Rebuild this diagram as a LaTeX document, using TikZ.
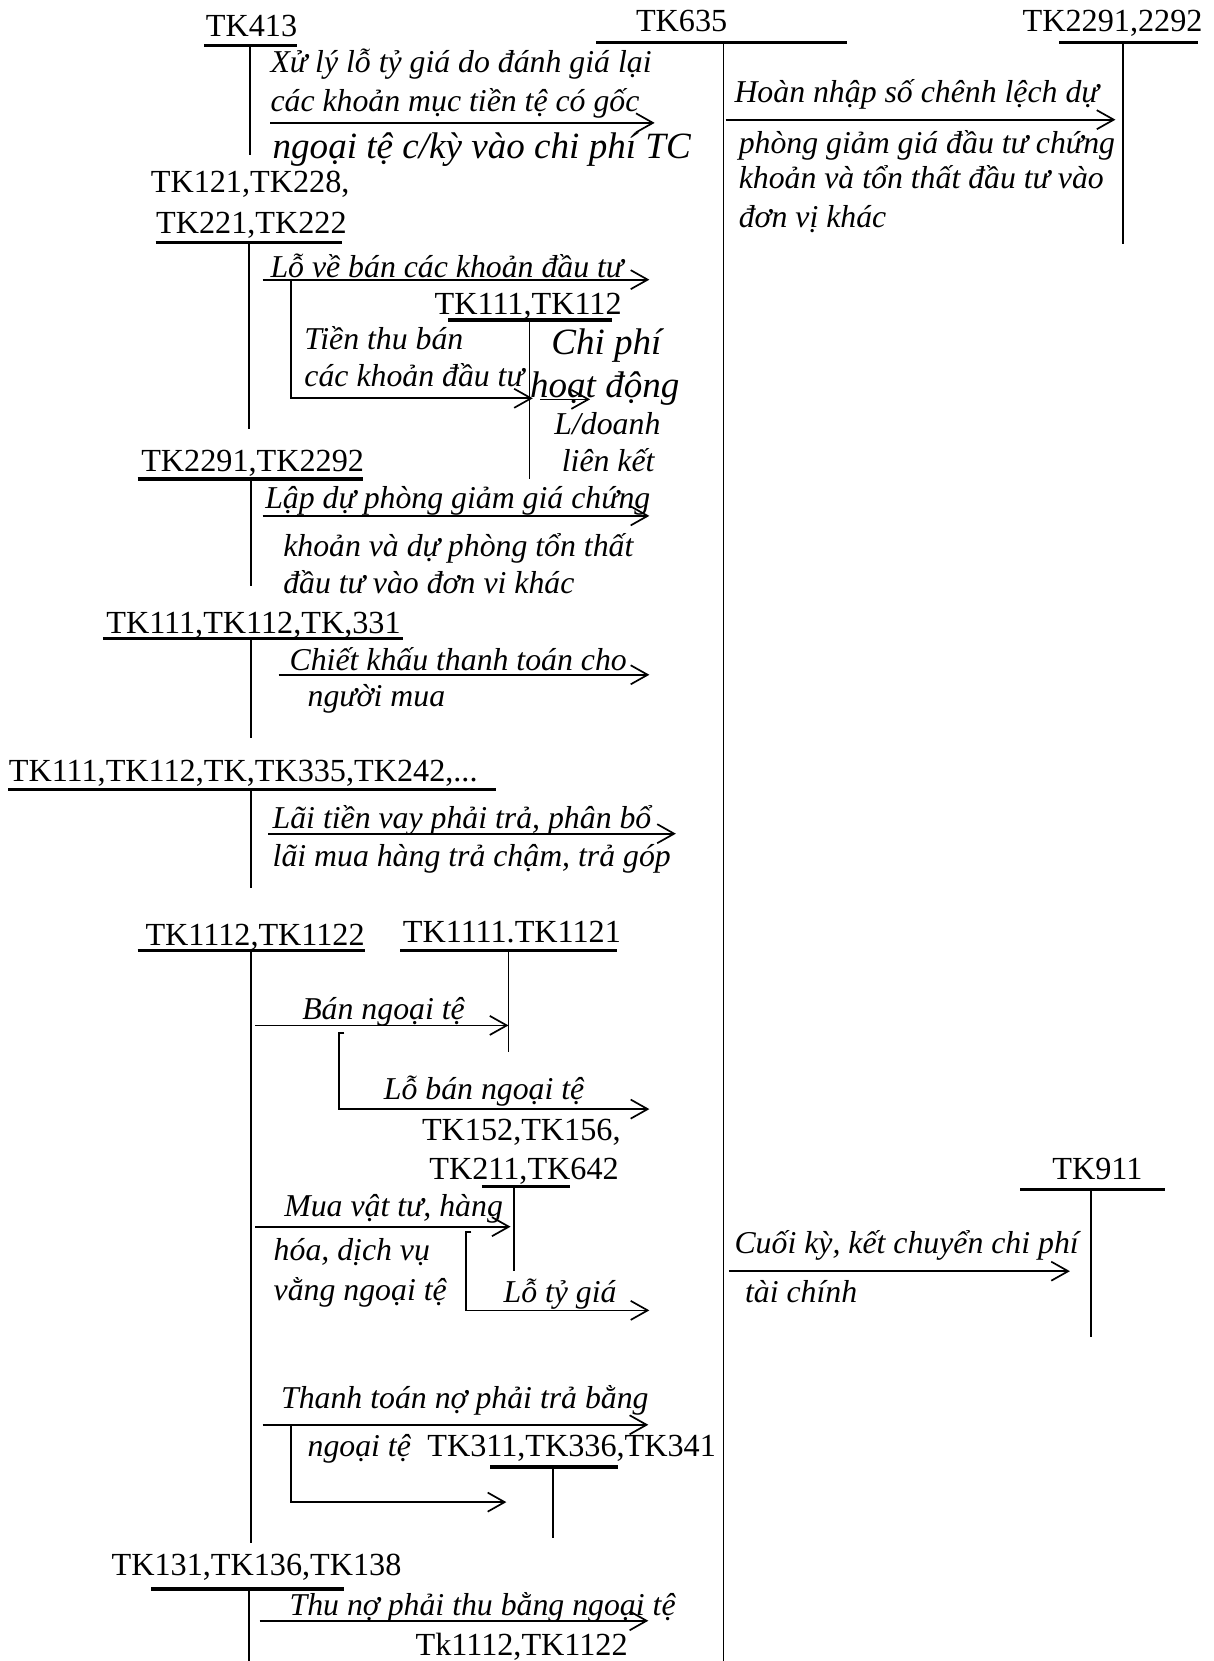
\documentclass[tikz,border=0pt]{standalone}
\usepackage{fontspec}
\setmainfont{Liberation Serif}
\usetikzlibrary{arrows.meta}
\begin{document}
\begin{tikzpicture}[x=0.5pt,y=-0.5pt,
  acct/.style={anchor=base west,inner sep=0pt,font=\fontsize{15.2}{18}\selectfont},
  lbl/.style={anchor=base west,inner sep=0pt,font=\fontsize{15}{18}\selectfont\itshape},
  big/.style={anchor=base west,inner sep=0pt,font=\fontsize{17.5}{20}\selectfont\itshape},
  bar/.style={line width=1.6pt},
  tline/.style={line width=0.7pt},
  flow/.style={line width=0.8pt,-{Straight Barb[length=8pt,width=9pt,line width=0.8pt]}}]
\useasboundingbox (0,0) rectangle (1146,1568);

% ---- T-accounts: title, bar, vertical line ----
\node[acct] (t413) at (194,34) {TK413};
\draw[bar] (193,43) -- (280,43);
\draw[tline] (236,43) -- (236,146);

\node[acct] (t635) at (600,30) {TK635};
\draw[bar] (563,40) -- (800,40);
\draw[tline] (683,40) -- (683,1568);

\node[acct] (t229r) at (965,30) {TK2291,2292};
\draw[bar] (1000,40) -- (1131,40);
\draw[tline] (1060,40) -- (1060,230);

\node[acct] (t121a) at (142,182) {TK121,TK228,};
\node[acct] (t121b) at (147,220) {TK221,TK222};
\draw[bar] (147,229) -- (323,229);
\draw[tline] (235,229) -- (235,405);

\node[acct] (t111a) at (410,297) {TK111,TK112};
\draw[bar] (423,302) -- (578,302);
\draw[tline] (500,302) -- (500,452);

\node[acct] (t229l) at (133,445) {TK2291,TK2292};
\draw[bar] (130,452) -- (343,452);
\draw[tline] (237,452) -- (237,553);

\node[acct] (t331) at (100,598) {TK111,TK112,TK,331};
\draw[bar] (97,603) -- (380,603);
\draw[tline] (237,603) -- (237,697);

\node[acct] (t335) at (8,738) {TK111,TK112,TK,TK335,TK242,...};
\draw[bar] (8,745) -- (468,745);
\draw[tline] (237,745) -- (237,838);

\node[acct] (t1112) at (137,893) {TK1112,TK1122};
\draw[bar] (130,897) -- (345,897);
\draw[tline] (237,897) -- (237,1457);

\node[acct] (t1111) at (380,890) {TK1111.TK1121};
\draw[bar] (378,897) -- (582,897);
\draw[tline] (480,897) -- (480,993);

\node[acct] (t152a) at (398,1077) {TK152,TK156,};
\node[acct] (t152b) at (405,1113) {TK211,TK642};
\draw[bar] (455,1120) -- (538,1120);
\draw[tline] (485,1120) -- (485,1200);

\node[acct] (t911) at (993,1113) {TK911};
\draw[bar] (963,1123) -- (1100,1123);
\draw[tline] (1030,1123) -- (1030,1262);

\node[acct] (t311) at (403,1375) {TK311,TK336,TK341};
\draw[bar] (463,1385) -- (583,1385);
\draw[tline] (522,1385) -- (522,1452);

\node[acct] (t131) at (105,1487) {TK131,TK136,TK138};
\draw[bar] (143,1500) -- (325,1500);
\draw[tline] (235,1500) -- (235,1568);

\node[acct] (tk1112) at (392,1563) {Tk1112,TK1122};

% ---- arrow end points ----
\coordinate (a1s) at (255,116);  \coordinate (a1e) at (618,116);
\coordinate (a2s) at (685,113);  \coordinate (a2e) at (1053,113);
\coordinate (a3s) at (248,264);  \coordinate (a3e) at (613,264);
\coordinate (a4s) at (275,264);  \coordinate (a4k) at (275,376);  \coordinate (a4e) at (503,376);
\coordinate (a5s) at (510,377);  \coordinate (a5e) at (557,377);
\coordinate (a6s) at (248,487);  \coordinate (a6e) at (613,487);
\coordinate (a7s) at (263,637);  \coordinate (a7e) at (613,637);
\coordinate (a8s) at (253,787);  \coordinate (a8e) at (638,787);
\coordinate (a9s) at (241,968);  \coordinate (a9e) at (480,968);
\coordinate (b1h) at (325,975);  \coordinate (b1t) at (320,975);  \coordinate (b1k) at (320,1047); \coordinate (b1e) at (613,1047);
\coordinate (a10s) at (241,1158); \coordinate (a10e) at (482,1158);
\coordinate (b2h) at (445,1163); \coordinate (b2t) at (440,1163); \coordinate (b2k) at (440,1237); \coordinate (b2e) at (613,1237);
\coordinate (a11s) at (688,1200); \coordinate (a11e) at (1010,1200);
\coordinate (a12s) at (248,1345); \coordinate (a12e) at (612,1345);
\coordinate (b3t) at (275,1345); \coordinate (b3k) at (275,1418); \coordinate (b3e) at (478,1418);
\coordinate (a13s) at (245,1530); \coordinate (a13e) at (612,1530);

% ---- entries ----
\draw[flow] (a1s) -- (a1e);
\node[lbl] (l1a) at (255,68) {Xử lý lỗ tỷ giá do đánh giá lại};
\node[lbl] (l1b) at (255,105) {các khoản mục tiền tệ có gốc};
\node[big] (l1c) at (257,150) {ngoại tệ c/kỳ vào chi phí TC};

\draw[flow] (a2s) -- (a2e);
\node[lbl] (l2a) at (693,97) {Hoàn nhập số chênh lệch dự};
\node[lbl] (l2b) at (697,145) {phòng giảm giá đầu tư chứng};
\node[lbl] (l2c) at (697,178) {khoản và tổn thất đầu tư vào};
\node[lbl] (l2d) at (697,215) {đơn vị khác};

\draw[flow] (a3s) -- (a3e);
\node[lbl] (l3) at (255,262) {Lỗ về bán các khoản đầu tư};

\draw[flow] (a4s) -- (a4k) -- (a4e);
\node[lbl] (l4a) at (287,330) {Tiền thu bán};
\node[lbl] (l4b) at (287,365) {các khoản đầu tư};

\draw[flow] (a5s) -- (a5e);
\node[big] (l5a) at (520,335) {Chi phí};
\node[big] (l5b) at (500,375) {hoạt động};
\node[lbl] (l5c) at (523,410) {L/doanh};
\node[lbl] (l5d) at (530,445) {liên kết};

\draw[flow] (a6s) -- (a6e);
\node[lbl] (l6a) at (250,480) {Lập dự phòng giảm giá chứng};
\node[lbl] (l6b) at (267,525) {khoản và dự phòng tổn thất};
\node[lbl] (l6c) at (267,560) {đầu tư vào đơn vi khác};

\draw[flow] (a7s) -- (a7e);
\node[lbl] (l7a) at (273,633) {Chiết khấu thanh toán cho};
\node[lbl] (l7b) at (290,667) {người mua};

\draw[flow] (a8s) -- (a8e);
\node[lbl] (l8a) at (257,782) {Lãi tiền vay phải trả, phân bổ};
\node[lbl] (l8b) at (257,818) {lãi mua hàng trả chậm, trả góp};

\draw[flow] (a9s) -- (a9e);
\node[lbl] (l9) at (285,962) {Bán ngoại tệ};

\draw[flow] (b1h) -- (b1t) -- (b1k) -- (b1e);
\node[lbl] (lb1) at (362,1038) {Lỗ bán ngoại tệ};

\draw[flow] (a10s) -- (a10e);
\node[lbl] (l10a) at (268,1148) {Mua vật tư, hàng};
\node[lbl] (l10b) at (258,1190) {hóa, dịch vụ};
\node[lbl] (l10c) at (258,1228) {vằng ngoại tệ};

\draw[flow] (b2h) -- (b2t) -- (b2k) -- (b2e);
\node[lbl] (lb2) at (475,1230) {Lỗ tỷ giá};

\draw[flow] (a11s) -- (a11e);
\node[lbl] (l11a) at (693,1183) {Cuối kỳ, kết chuyển chi phí};
\node[lbl] (l11b) at (703,1230) {tài chính};

\draw[flow] (a12s) -- (a12e);
\node[lbl] (l12a) at (265,1330) {Thanh toán nợ phải trả bằng};
\draw[flow] (b3t) -- (b3k) -- (b3e);
\node[lbl] (l12b) at (290,1375) {ngoại tệ};

\draw[flow] (a13s) -- (a13e);
\node[lbl] (l13) at (273,1525) {Thu nợ phải thu bằng ngoại tệ};
\end{tikzpicture}
\end{document}
